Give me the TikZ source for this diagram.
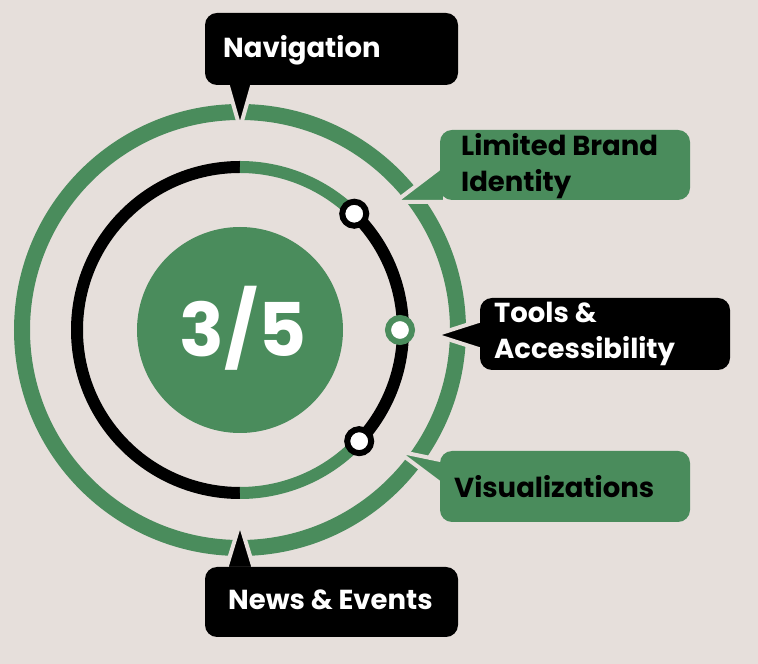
\documentclass[tikz,border=0pt]{standalone}
\usetikzlibrary{calc}
\usepackage{fontspec}
\setmainfont{Poppins}[BoldFont={* Bold}]
\definecolor{bg}{HTML}{E6DFDB}
\definecolor{gr}{HTML}{4A8C5C}
\begin{document}
\begin{tikzpicture}[x=1pt,y=1pt,
  box/.style={rounded corners=12pt},
  ptr/.style={draw=bg,line width=4pt,line join=miter},
  dot/.style={circle,fill=white,line width=6pt,minimum size=24pt,inner sep=0pt},
  lab/.style={font=\bfseries\fontsize{27.5}{36}\selectfont,anchor=west,align=left,inner sep=0pt}]
\fill[bg] (0,0) rectangle (758,664);
\useasboundingbox (0,0) rectangle (758,664);
\coordinate (c) at (240,334);
% outer ring
\draw[gr,line width=16pt] (c) circle (218);
% inner ring
\draw[black,line width=12pt] (240,497) arc (90:270:163);
\draw[gr,line width=12pt] (240,497) arc (90:45.5:163);
\draw[gr,line width=12pt] (240,171) arc (-90:-43:163);
\draw[black,line width=12pt] (c) ++(45.5:163) arc (45.5:-43:163);
% center
\fill[gr] (c) circle (103);
\node[text=white,font=\bfseries\fontsize{74}{74}\selectfont] (n35) at (243,336) {3/5};
% dots
\node[dot,draw=black] (d1) at ($(c)+(45.5:163)$) {};
\node[dot,draw=black] (d3) at ($(c)+(-43:163)$) {};
\node[dot,draw=gr] (d2) at ($(c)+(0:160)$) {};
% Navigation
\filldraw[ptr,fill=black] (226,585) -- (240,536) -- (254,585) -- cycle;
\fill[black,box] (205,579) rectangle (458,651);
\node[lab,text=white] (nav) at (223,614) {Navigation};
% News & Events
\filldraw[ptr,fill=black] (226,95) -- (240,141) -- (254,95) -- cycle;
\fill[black,box] (205,27) rectangle (458,97);
\node[lab,text=white] (news) at (228,64) {News \& Events};
% Limited Brand Identity
\filldraw[ptr,fill=gr] (445,500) -- (395,462) -- (445,462) -- cycle;
\fill[gr,box] (440,464) rectangle (690,534);
\node[lab,text=black] (lbi) at (461,498) {Limited Brand\\Identity};
% Tools
\filldraw[ptr,fill=black] (485,345) -- (435,329) -- (485,313) -- cycle;
\fill[black,box] (480,294) rectangle (730,366);
\node[lab,text=white] (tools) at (494,330) {Tools \&\\Accessibility};
% Visualizations
\filldraw[ptr,fill=gr] (445,203) -- (397,213) -- (445,177) -- cycle;
\fill[gr,box] (440,142) rectangle (690,213);
\node[lab,text=black] (vis) at (454,177) {Visualizations};
\end{tikzpicture}
\end{document}
